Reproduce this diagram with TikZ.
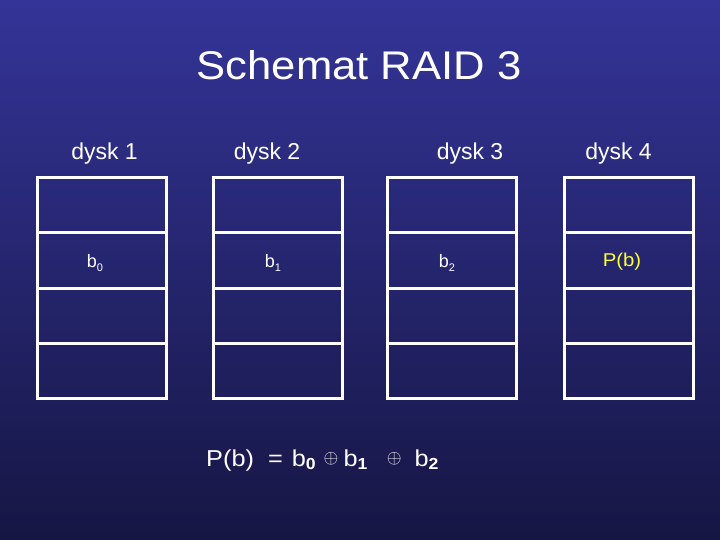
\documentclass[tikz,border=0pt]{standalone}
\usepackage{fontspec}
\setmainfont{Liberation Sans}
\newfontfamily\titlefont[FakeStretch=1.09]{Liberation Sans}
\newfontfamily\widesans[FakeStretch=1.1]{Liberation Sans}
\definecolor{bgtop}{RGB}{52,52,152}
\definecolor{bgbot}{RGB}{22,22,68}
\definecolor{paryellow}{RGB}{255,255,50}
\newcommand{\lowsub}[2]{\raisebox{-#1}{#2}}
\newcommand{\xorsym}{\raisebox{2.75pt}{\scalebox{1.9}{\fontsize{10}{12}\selectfont$\oplus$}}}
\newcommand{\fsub}[1]{\lowsub{3.5pt}{\fontsize{16}{17}\selectfont\bfseries #1}}
\begin{document}
\begin{tikzpicture}[x=1pt,y=-1pt,
  cell/.style={draw=white, line width=3pt, minimum width=129pt, minimum height=55.25pt, inner sep=0pt, anchor=north west},
  lbl/.style={text=white, font=\fontsize{23}{27}\selectfont, anchor=base, inner sep=0pt},
  blk/.style={text=white, font=\fontsize{18}{22}\selectfont, anchor=base, inner sep=0pt}]
\useasboundingbox (0,0) rectangle (720,540);
\shade[top color=bgtop, bottom color=bgbot] (0,0) rectangle (720,540);
\node[text=white, font=\titlefont\fontsize{40}{46}\selectfont, anchor=base, inner sep=0pt] (title) at (359,80) {Schemat RAID 3};
\foreach \i/\x in {1/36,2/212,3/386,4/563}{
  \foreach \j in {1,...,4}{
    \node[cell] (d\i c\j) at ({\x},{176+55.25*(\j-1)}) {};
  }
}
\node[lbl] (h1) at (104.5,160) {dysk 1};
\node[lbl] (h2) at (267,160) {dysk 2};
\node[lbl] (h3) at (470,160) {dysk 3};
\node[lbl] (h4) at (618.5,160) {dysk 4};
\node[blk] (b0) at (95,267) {b\lowsub{4.5pt}{\fontsize{11}{12}\selectfont 0}};
\node[blk] (b1) at (273,267) {b\lowsub{4.5pt}{\fontsize{11}{12}\selectfont 1}};
\node[blk] (b2) at (447,267) {b\lowsub{4.5pt}{\fontsize{11}{12}\selectfont 2}};
\node[blk, text=paryellow, font=\widesans\fontsize{18.5}{22}\selectfont] (pb) at (622,266) {P(b)};
\node[text=white, font=\widesans\fontsize{23}{27}\selectfont, anchor=base west, inner sep=0pt] (formula) at (206,466)
  {\makebox[62pt][l]{P(b)}\makebox[23.7pt][l]{=}\makebox[31.6pt][l]{b\fsub{0}}\makebox[20pt][l]{\xorsym}\makebox[43.4pt][l]{b\fsub{1}}\makebox[27.6pt][l]{\xorsym}b\fsub{2}};
\end{tikzpicture}
\end{document}
